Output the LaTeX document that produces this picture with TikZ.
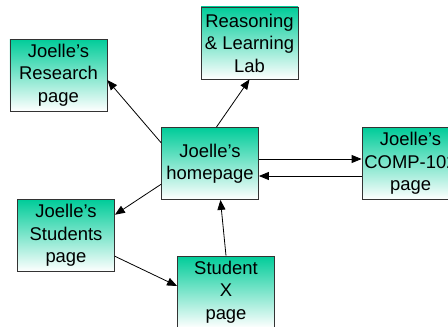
\documentclass[tikz,border=0pt]{standalone}
\usepackage{fontspec}
\setmainfont{Liberation Sans}
\usetikzlibrary{arrows.meta}

\definecolor{pageteal}{HTML}{00CC99}

\begin{document}
\begin{tikzpicture}[
    x=1bp, y=1bp,
    box/.style={draw=black!80, line width=0.8bp, rectangle, top color=pageteal, bottom color=white,
        minimum width=97bp, minimum height=72bp, inner sep=0pt, align=center,
        font=\fontsize{18.5}{22.5}\selectfont},
    link/.style={-{Triangle[length=10bp,width=8bp]}, line width=0.8bp}
]
\useasboundingbox (0,0) rectangle (448,326);
\clip (0,0) rectangle (448,326);

\node[box] (research) at (58.5,251) {Joelle’s\\Research\\page};
\node[box] (lab) at (249.5,283) {Reasoning\\\& Learning\\Lab};
\node[box] (home) at (210,162.5) {Joelle’s\\homepage};
\node[box] (course) at (410.5,162.5) {Joelle’s\\COMP-102\\page};
\node[box] (students) at (66,90.5) {Joelle’s\\Students\\page};
\node[box] (studentx) at (226,34) {Student\\X\\page};

\draw[link] (home.157) -- (research.-6);
\draw[link] (home.80) -- (lab.south);
\draw[link] ([yshift=4.5bp]home.east) -- ([yshift=4.5bp]course.west);
\draw[link] ([yshift=-12.5bp]course.west) -- ([yshift=-12.5bp]home.east);
\draw[link] (home.-157) -- (students.23);
\draw[link] (students.-23) -- (studentx.173);
\draw[link] (studentx.north) -- (home.-74);
\end{tikzpicture}
\end{document}
